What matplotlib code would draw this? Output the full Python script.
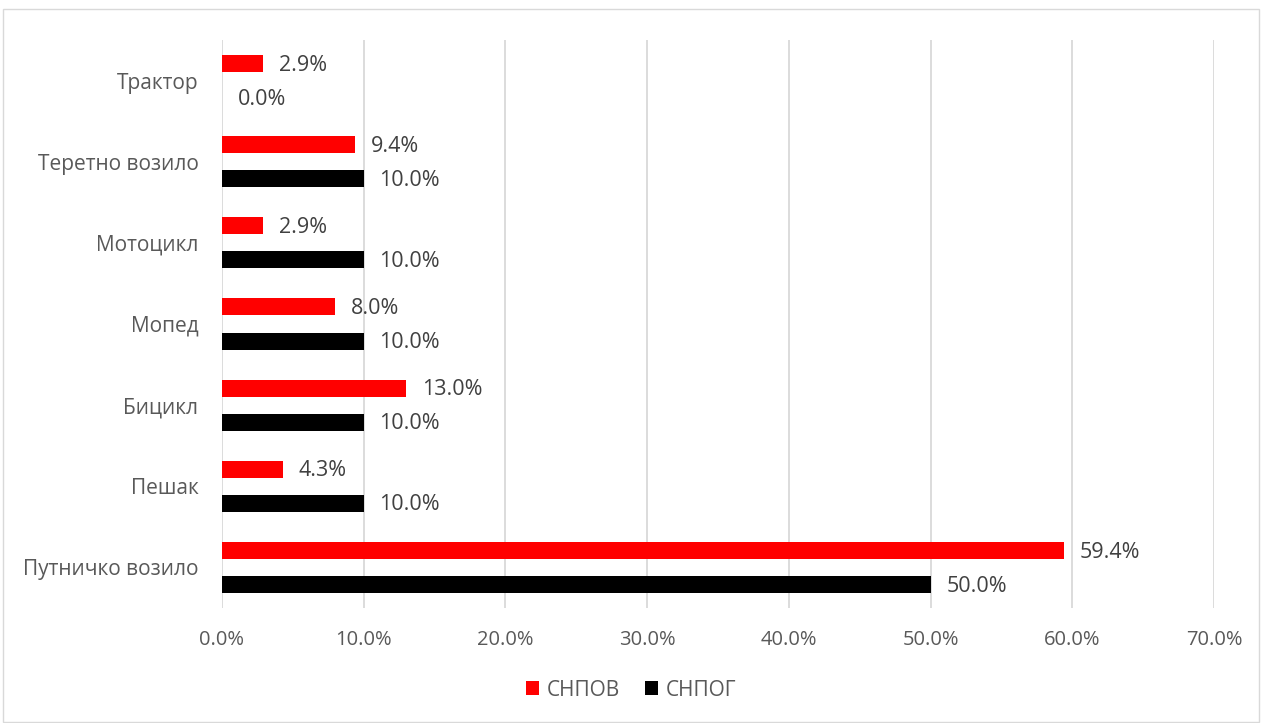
import numpy as np
import matplotlib.pyplot as plt
from matplotlib.ticker import FuncFormatter

categories = ["Путничко возило", "Пешак", "Бицикл", "Мопед", "Мотоцикл", "Теретно возило", "Трактор"]
snpov = [59.4, 4.3, 13.0, 8.0, 2.9, 9.4, 2.9]
snpog = [50.0, 10.0, 10.0, 10.0, 10.0, 10.0, 0.0]
series_names = ["СНПОВ", "СНПОГ"]

plt.rcParams['font.family'] = ['Open Sans', 'DejaVu Sans']
txt = "#595959"

fig = plt.figure(figsize=(12.62, 7.23), dpi=100)
ax = fig.add_axes([222/1262, 1 - 608/723, (1214-222)/1262, (608-40)/723])

y = np.arange(len(categories))
h = 0.21
b1 = ax.barh(y + h, snpov, h, color="#FF0000", label=series_names[0], zorder=3)
b2 = ax.barh(y - h, snpog, h, color="#000000", label=series_names[1], zorder=3)

for bars, vals in [(b1, snpov), (b2, snpog)]:
    for bar, v in zip(bars, vals):
        ax.text(v + 1.1, bar.get_y() + bar.get_height()/2 - 0.02, f"{v:.1f}%",
                va="center", ha="left", fontsize=15.5, color="#404040")

ax.set_xlim(0, 70)
ax.set_ylim(-0.5, 6.5)
ax.set_xticks(np.arange(0, 71, 10))
ax.xaxis.set_major_formatter(FuncFormatter(lambda v, p: f"{v:.1f}%"))
ax.set_yticks(y)
ax.set_yticklabels(categories, fontsize=15)
ax.tick_params(axis="both", length=0, colors=txt)
ax.tick_params(axis="x", pad=16, labelsize=14.5)
ax.tick_params(axis="y", pad=17)
ax.grid(axis="x", color="#D9D9D9", linewidth=1.3, zorder=0)
for s in ax.spines.values():
    s.set_visible(False)

fig.legend(handles=[b1, b2], labels=series_names, loc="center", bbox_to_anchor=(0.5, 1 - 690/723),
           ncol=2, frameon=False, fontsize=15, labelcolor=txt, handlelength=0.65, handleheight=0.65,
           handletextpad=0.35, columnspacing=1.2)

fig.patches.append(plt.Rectangle((0.002, 0.002), 0.996, 0.985, transform=fig.transFigure,
                                 fill=False, edgecolor="#D9D9D9", linewidth=1))
fig.savefig("out.png", dpi=100)
